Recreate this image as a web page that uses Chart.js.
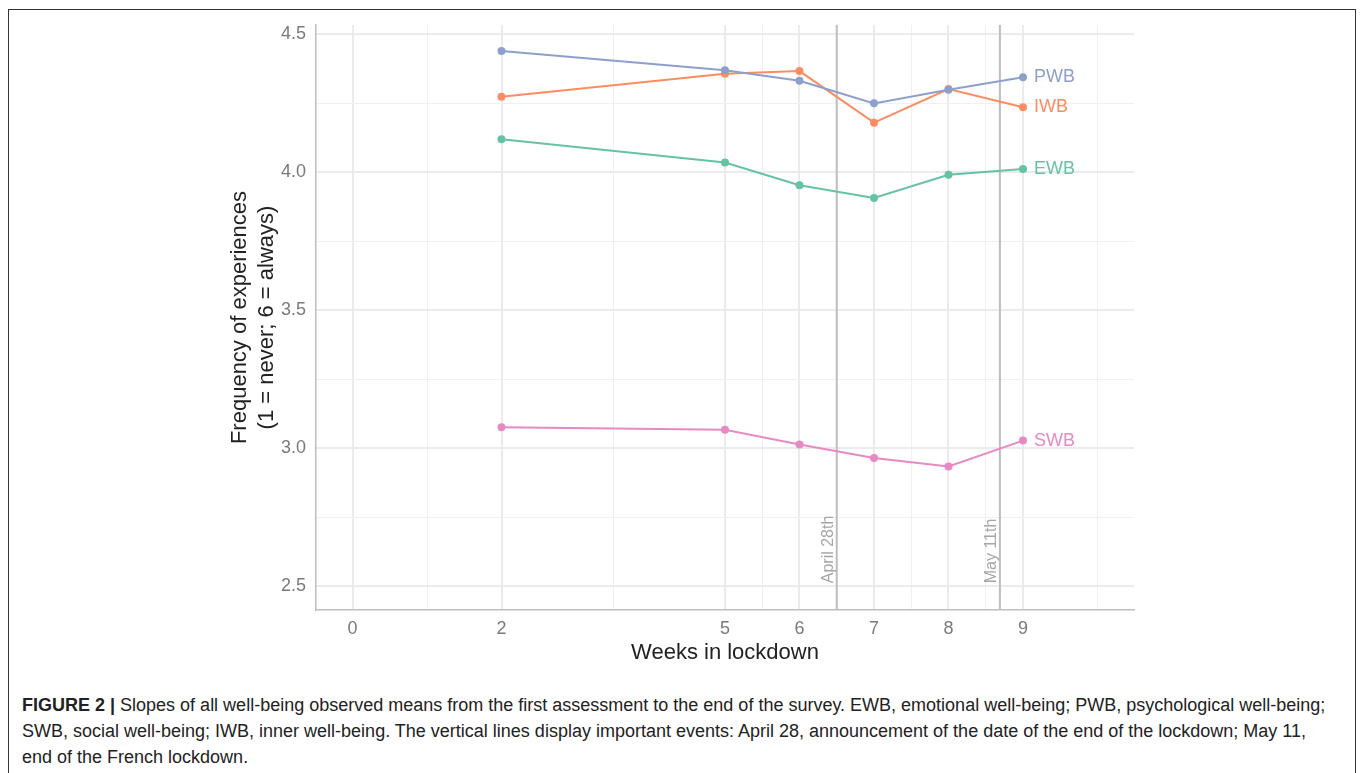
<!DOCTYPE html>
<html>
<head>
<meta charset="utf-8">
<script src="https://cdn.jsdelivr.net/npm/chart.js@4.4.0/dist/chart.umd.min.js"></script>
<style>
    body { margin: 0; background: #fff; width: 1360px; height: 773px; overflow: hidden; position: relative; font-family: "Liberation Sans", Arial, sans-serif; }
    #frame { position: absolute; left: 8px; top: 9px; width: 1348px; height: 820px; border: 1px solid #333; box-sizing: border-box; }
    #wrap { position: absolute; left: 0; top: 0; width: 1360px; height: 680px; }
    #caption { position: absolute; left: 22px; top: 692px; font-size: 18px; line-height: 26px; color: #222; white-space: nowrap; }
</style>
</head>
<body>
<div id="frame"></div>
<div id="wrap"><canvas id="slopeChart"></canvas></div>
<div id="caption"><b>FIGURE 2 |</b> Slopes of all well-being observed means from the first assessment to the end of the survey. EWB, emotional well-being; PWB, psychological well-being;<br>SWB, social well-being; IWB, inner well-being. The vertical lines display important events: April 28, announcement of the date of the end of the lockdown; May 11,<br>end of the French lockdown.</div>
<script>
// Data
const weeks = [2, 5, 6, 7, 8, 9];
const pwb = [4.440, 4.370, 4.332, 4.250, 4.299, 4.345];
const iwb = [4.274, 4.357, 4.367, 4.180, 4.302, 4.236];
const ewb = [4.120, 4.036, 3.953, 3.907, 3.991, 4.012];
const swb = [3.076, 3.067, 3.014, 2.965, 2.934, 3.028];

const seriesNames = ['PWB', 'IWB', 'EWB', 'SWB'];
const seriesValues = [pwb, iwb, ewb, swb];
const seriesColors = ['#8DA0CB', '#FC8D62', '#66C2A5', '#E78AC3'];

const xMajorTicks = [0, 2, 5, 6, 7, 8, 9];
const xMinorTicks = [1, 3.5, 5.5, 6.5, 7.5, 8.5, 10];
const yMajorTicks = [2.5, 3.0, 3.5, 4.0, 4.5];
const yMinorTicks = [2.75, 3.25, 3.75, 4.25];

const eventWeeks = [6.5, 8.69];
const eventLabels = ['April 28th', 'May 11th'];

const FONT = '"Liberation Sans", Arial, sans-serif';
const tickColor = '#7a7a7a';
const titleColor = '#222';

function setTicks(major, minor) {
    return scale => {
        scale.ticks = major.concat(minor).sort((a, b) => a - b).map(v => ({ value: v }));
    };
}

// vertical event lines + rotated labels
const eventPlugin = {
    id: 'events',
    beforeDatasetsDraw(chart) {
        const { ctx, chartArea, scales: { x, y } } = chart;
        ctx.save();
        eventWeeks.forEach((w, i) => {
            const px = x.getPixelForValue(w);
            ctx.strokeStyle = '#BDBDBD';
            ctx.lineWidth = 2;
            ctx.beginPath();
            ctx.moveTo(px, chartArea.top);
            ctx.lineTo(px, chartArea.bottom);
            ctx.stroke();

            ctx.save();
            ctx.translate(px - 4, y.getPixelForValue(yMajorTicks[0]) - 3);
            ctx.rotate(-Math.PI / 2);
            ctx.fillStyle = '#A6A6A6';
            ctx.font = '16px ' + FONT;
            ctx.textAlign = 'left';
            ctx.textBaseline = 'alphabetic';
            ctx.fillText(eventLabels[i], 0, 0);
            ctx.restore();
        });
        ctx.restore();
    }
};

// series names at the end of each line
const endLabelPlugin = {
    id: 'endLabels',
    afterDatasetsDraw(chart) {
        const { ctx } = chart;
        ctx.save();
        ctx.font = '18px ' + FONT;
        ctx.textAlign = 'left';
        ctx.textBaseline = 'middle';
        chart.data.datasets.forEach((ds, i) => {
            const pts = chart.getDatasetMeta(i).data;
            const last = pts[pts.length - 1];
            ctx.fillStyle = ds.borderColor;
            ctx.fillText(ds.label, last.x + 11, last.y);
        });
        ctx.restore();
    }
};

const ctx = document.getElementById('slopeChart').getContext('2d');
new Chart(ctx, {
    type: 'scatter',
    data: {
        datasets: seriesNames.map((name, i) => ({
            label: name,
            data: weeks.map((w, j) => ({ x: w, y: seriesValues[i][j] })),
            showLine: true,
            borderColor: seriesColors[i],
            backgroundColor: seriesColors[i],
            borderWidth: 2,
            pointRadius: 4,
            pointBorderWidth: 0,
            pointHoverRadius: 4
        }))
    },
    options: {
        responsive: true,
        maintainAspectRatio: false,
        animation: false,
        layout: { padding: { left: 0, top: 25, right: 226, bottom: 0 } },
        plugins: { legend: { display: false }, tooltip: { enabled: false } },
        scales: {
            x: {
                type: 'linear',
                min: -0.49,
                max: 10.49,
                afterBuildTicks: setTicks(xMajorTicks, xMinorTicks),
                afterFit: s => { s.height = 70; },
                grid: {
                    drawTicks: false,
                    color: c => xMajorTicks.includes(c.tick.value) ? '#EBEBEB' : '#F0F0F0',
                    lineWidth: c => xMajorTicks.includes(c.tick.value) ? 2 : 1
                },
                border: { display: true, color: '#BEBEBE', width: 1.5 },
                ticks: {
                    autoSkip: false,
                    maxRotation: 0,
                    padding: 8,
                    color: tickColor,
                    font: { family: FONT, size: 18 },
                    callback: v => xMajorTicks.includes(v) ? String(v) : ''
                },
                title: {
                    display: true,
                    text: 'Weeks in lockdown',
                    color: titleColor,
                    font: { family: FONT, size: 22, lineHeight: 1.2 },
                    padding: { top: 0, bottom: 14 }
                }
            },
            y: {
                min: 2.414,
                max: 4.534,
                afterBuildTicks: setTicks(yMajorTicks, yMinorTicks),
                afterFit: s => { s.width = 316; },
                grid: {
                    drawTicks: false,
                    color: c => yMajorTicks.includes(c.tick.value) ? '#EBEBEB' : '#F0F0F0',
                    lineWidth: c => yMajorTicks.includes(c.tick.value) ? 2 : 1
                },
                border: { display: true, color: '#BEBEBE', width: 1.5 },
                ticks: {
                    autoSkip: false,
                    padding: 10,
                    color: tickColor,
                    font: { family: FONT, size: 18 },
                    callback: v => yMajorTicks.includes(v) ? v.toFixed(1) : ''
                },
                title: {
                    display: true,
                    text: ['Frequency of experiences', '(1 = never; 6 = always)'],
                    color: titleColor,
                    font: { family: FONT, size: 22, lineHeight: 1.2 },
                    padding: { top: 227, bottom: 0 }
                }
            }
        }
    },
    plugins: [eventPlugin, endLabelPlugin]
});
</script>
</body>
</html>
